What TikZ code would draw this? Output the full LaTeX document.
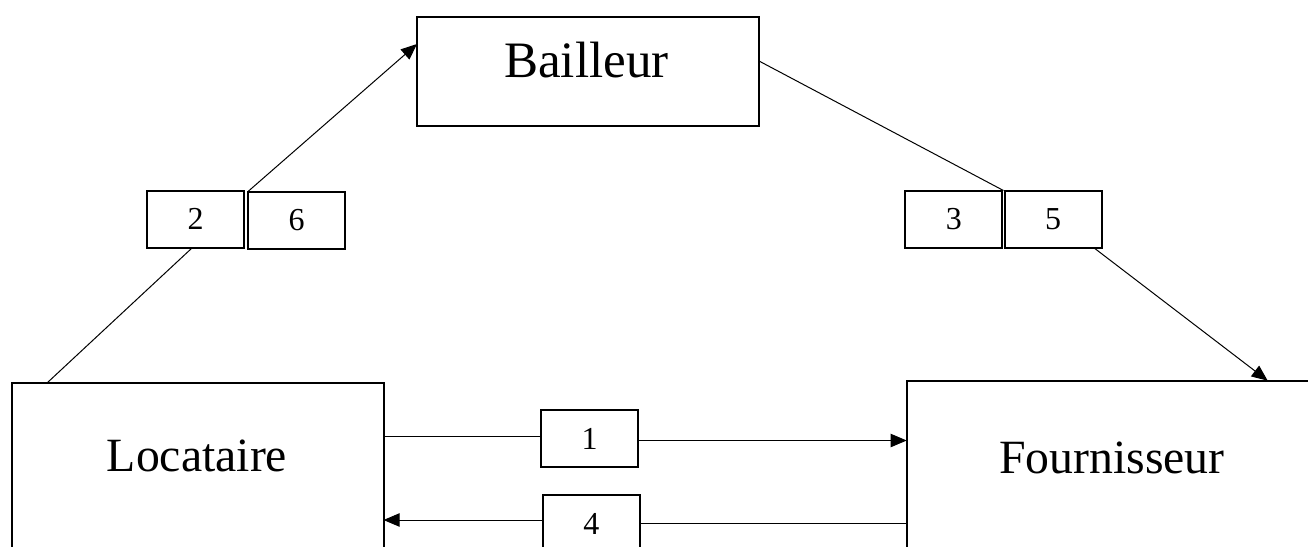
\documentclass[tikz,border=0pt]{standalone}
\usepackage{fontspec}
\setmainfont{Liberation Serif}
\usetikzlibrary{arrows.meta,calc}

\tikzset{
  frame/.style={draw, line width=1.5pt, inner sep=0pt, outer sep=0pt, fill=white},
  numbox/.style={frame, minimum width=97*0.75pt, minimum height=57*0.75pt,
                 font=\fontsize{24}{28}\selectfont},
  bigtext/.style={anchor=base, inner sep=0pt, font=\fontsize{35.8}{40}\selectfont},
  link/.style={draw, line width=0.75pt},
  flow/.style={link, -{Triangle[length=12pt,width=10pt]}}
}

\begin{document}
\begin{tikzpicture}[x=0.75pt,y=-0.75pt]
  \clip (0,0) rectangle (1308,546);
  \fill[white] (0,0) rectangle (1308,546);

  % the three parties
  \node[frame, minimum width=342*0.75pt, minimum height=109*0.75pt] (bail) at (588,71.5) {};
  \node[frame, minimum width=371.5*0.75pt, minimum height=317*0.75pt] (loc) at (197.75,541.5) {};
  \node[frame, minimum width=423.3*0.75pt, minimum height=320*0.75pt] (four) at (1118.35,540.7) {};

  \node[bigtext, font=\fontsize{38.3}{42}\selectfont] (bailtext) at (586.5,77) {Bailleur};
  \node[bigtext] (loctext) at (197,471) {Locataire};
  \node[bigtext] (fourtext) at (1112,473) {Fournisseur};

  % numbered steps
  \node[numbox] (b2) at (195.65,219.35) {2};
  \node[numbox] (b6) at (296.5,220) {6};
  \node[numbox] (b3) at (953.85,219) {3};
  \node[numbox] (b5) at (1053,219) {5};
  \node[numbox] (b1) at (589.7,438.5) {1};
  \node[numbox] (b4) at (591.25,523.5) {4};

  % Locataire -> Bailleur
  \draw[link] ($(loc.north west)+(35,0)$) -- ($(b2.south)+(-3.5,0)$);
  \draw[flow] (b6.north west) -- ($(bail.north west)+(0,27)$);

  % Bailleur -> Fournisseur
  \draw[link] ($(bail.north east)+(0,44)$) -- ($(b3.north east)!0.5!(b5.north west)$);
  \draw[flow] ($(b5.south west)+(89,0)$) -- ($(four.north west)+(361,0)$);

  % Locataire -> Fournisseur
  \coordinate (l1) at ($(b1.west)+(0,-2)$);
  \coordinate (r1) at ($(b1.east)+(0,2)$);
  \draw[link] (l1 -| loc.east) -- (l1);
  \draw[flow] (r1) -- (r1 -| four.west);

  % Fournisseur -> Locataire
  \coordinate (l4) at ($(b4.west)+(0,-3.5)$);
  \coordinate (r4) at ($(b4.east)+(0,-0.5)$);
  \draw[link] (r4 -| four.west) -- (r4);
  \draw[flow] (l4) -- (l4 -| loc.east);
\end{tikzpicture}
\end{document}
